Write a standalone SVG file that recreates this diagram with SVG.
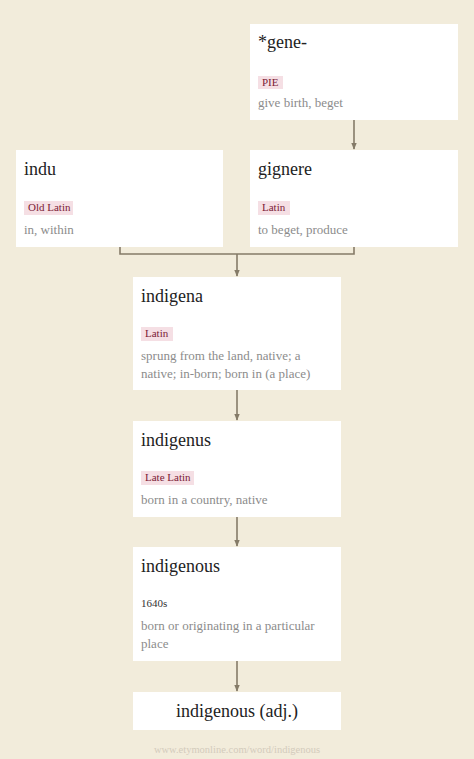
<svg xmlns="http://www.w3.org/2000/svg" width="474" height="759" viewBox="0 0 474 759">
<defs>
<style>
.bg{fill:#f2ecdb}
.box{fill:#ffffff}
.title{font-family:"Liberation Serif",serif;font-size:18px;fill:#222222}
.tag{fill:#f5dfe4}
.tagt{font-family:"Liberation Serif",serif;font-size:11px;fill:#7b2036}
.date{font-family:"Liberation Serif",serif;font-size:11px;fill:#333333}
.desc{font-family:"Liberation Serif",serif;font-size:13px;fill:#8c8c8c}
.foot{font-family:"Liberation Serif",serif;font-size:10.5px;fill:#d2cbbb}
.conn{fill:none;stroke:#857b68;stroke-width:1.6}
</style>
<marker id="arr" viewBox="0 0 10 10" refX="9" refY="5" markerWidth="7" markerHeight="7" markerUnits="userSpaceOnUse" orient="auto">
<path d="M0,1 L10,5 L0,9 z" fill="#857b68"/>
</marker>
</defs>
<rect class="bg" x="0" y="0" width="474" height="759"/>
<g id="connectors">
<path class="conn" d="M354,120 V149" marker-end="url(#arr)"/>
<path class="conn" d="M120,247 V254 H354 V247"/>
<path class="conn" d="M237,254 V276" marker-end="url(#arr)"/>
<path class="conn" d="M237,390 V420" marker-end="url(#arr)"/>
<path class="conn" d="M237,517 V546" marker-end="url(#arr)"/>
<path class="conn" d="M237,661 V691" marker-end="url(#arr)"/>
</g>
<g id="node-gene">
<rect class="box" x="250" y="24" width="208" height="96"/>
<text class="title" x="258" y="48">*gene-</text>
<rect class="tag" x="258" y="76" width="25" height="13"/>
<text class="tagt" x="262" y="86">PIE</text>
<text class="desc" x="258" y="107">give birth, beget</text>
</g>
<g id="node-indu">
<rect class="box" x="16" y="150" width="207" height="97"/>
<text class="title" x="24" y="175">indu</text>
<rect class="tag" x="24" y="201" width="49" height="14"/>
<text class="tagt" x="28" y="211">Old Latin</text>
<text class="desc" x="24" y="234">in, within</text>
</g>
<g id="node-gignere">
<rect class="box" x="250" y="150" width="208" height="97"/>
<text class="title" x="258" y="175">gignere</text>
<rect class="tag" x="258" y="201" width="32" height="14"/>
<text class="tagt" x="262" y="211">Latin</text>
<text class="desc" x="258" y="234">to beget, produce</text>
</g>
<g id="node-indigena">
<rect class="box" x="133" y="277" width="208" height="113"/>
<text class="title" x="141" y="302">indigena</text>
<rect class="tag" x="141" y="327" width="32" height="14"/>
<text class="tagt" x="145" y="337">Latin</text>
<text class="desc" x="141" y="360">sprung from the land, native; a</text>
<text class="desc" x="141" y="378">native; in-born; born in (a place)</text>
</g>
<g id="node-indigenus">
<rect class="box" x="133" y="421" width="208" height="96"/>
<text class="title" x="141" y="446">indigenus</text>
<rect class="tag" x="141" y="471" width="53" height="14"/>
<text class="tagt" x="145" y="481">Late Latin</text>
<text class="desc" x="141" y="504">born in a country, native</text>
</g>
<g id="node-indigenous">
<rect class="box" x="133" y="547" width="208" height="114"/>
<text class="title" x="141" y="572">indigenous</text>
<text class="date" x="141" y="607">1640s</text>
<text class="desc" x="141" y="630">born or originating in a particular</text>
<text class="desc" x="141" y="648">place</text>
</g>
<g id="node-indigenous-adj">
<rect class="box" x="133" y="692" width="208" height="38"/>
<text class="title" x="237" y="717" text-anchor="middle">indigenous (adj.)</text>
</g>
<text class="foot" x="237" y="753" text-anchor="middle">www.etymonline.com/word/indigenous</text>
</svg>
